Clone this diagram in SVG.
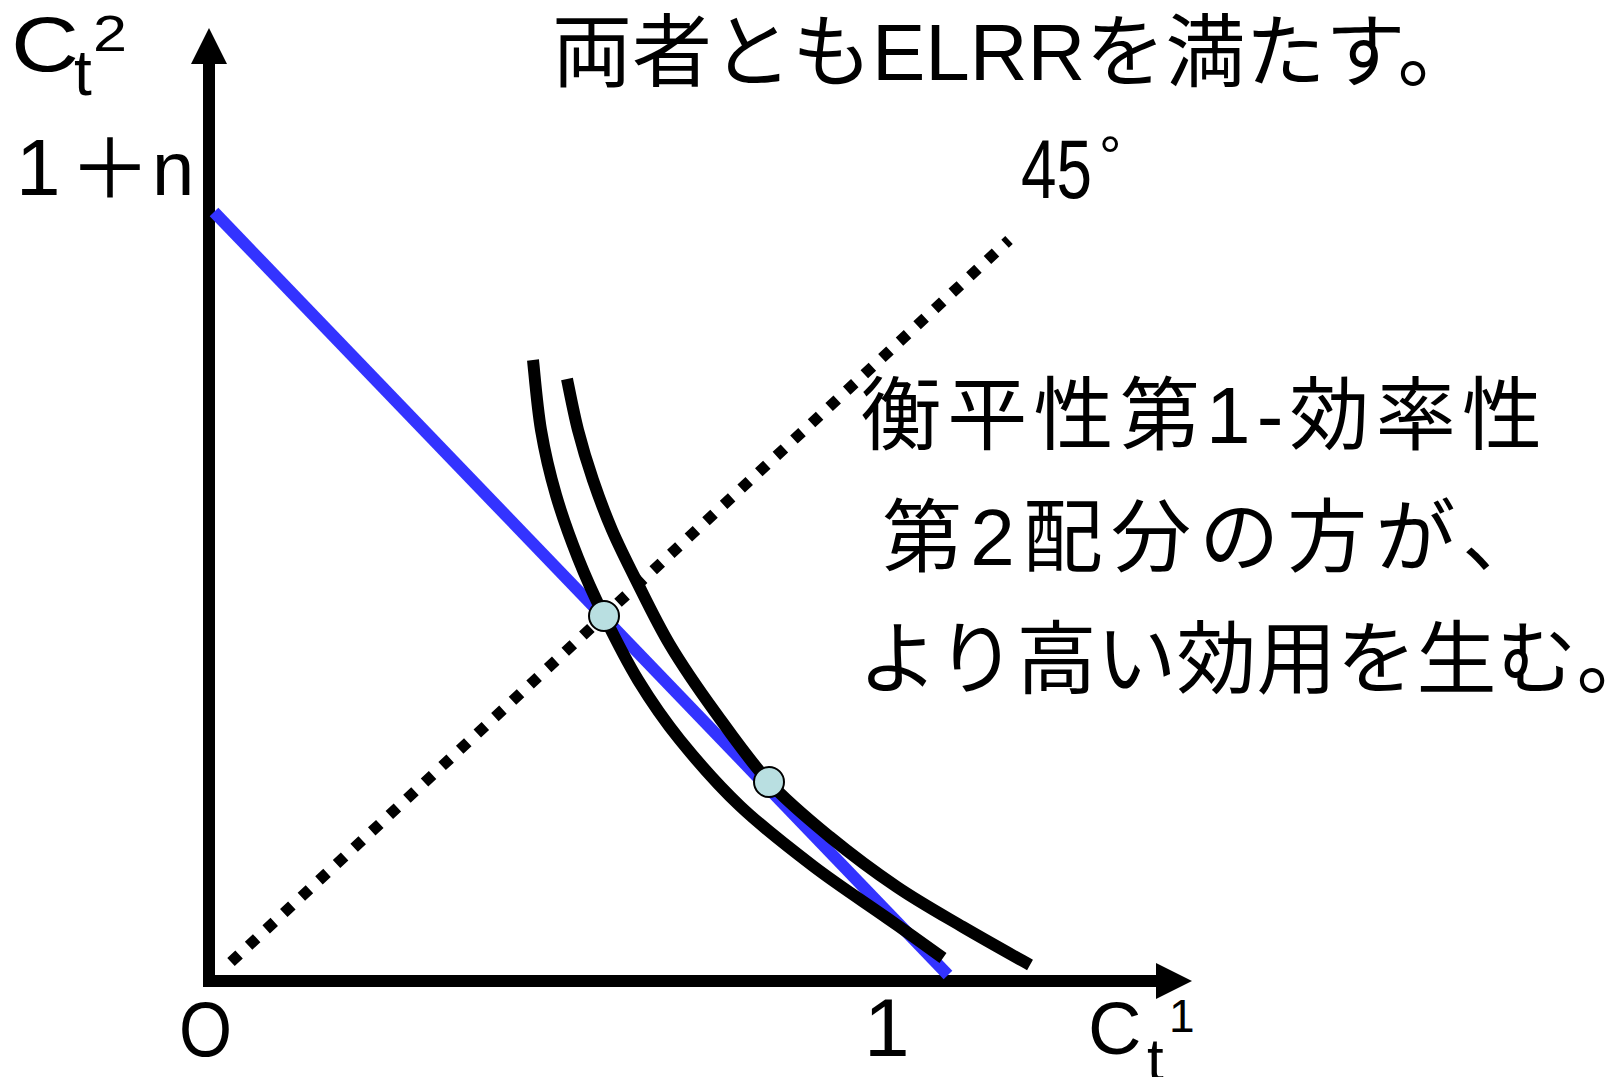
<svg xmlns="http://www.w3.org/2000/svg" width="1622" height="1077" viewBox="0 0 1622 1077">
<style>
.t{font-family:"Liberation Sans","Noto Sans CJK JP",sans-serif;fill:#000}
.j{font-family:"Liberation Sans","Noto Sans CJK JP",sans-serif;fill:#000;font-size:80px}
.ax{stroke:#000;stroke-width:12;fill:none}
.crv{stroke:#000;stroke-width:12;fill:none;stroke-linecap:butt}
.pt{fill:#b9dfe1;stroke:#000;stroke-width:2}
</style>
<rect width="1622" height="1077" fill="#fff"/>
<g id="connectors">
  <g id="axes">
    <line class="ax" x1="209" y1="60" x2="209" y2="987"/>
    <line class="ax" x1="203" y1="981" x2="1160" y2="981"/>
    <polygon points="209,28 191,64 227,64" fill="#000"/>
    <polygon points="1192,981 1156,963 1156,999" fill="#000"/>
  </g>
  <line id="budget-line" x1="214" y1="212" x2="948" y2="975" stroke="#3333ff" stroke-width="12"/>
  <path id="indiff-1" class="crv" d="M533,360 C534.3,371.7 537.2,407.5 541,430 C544.8,452.5 549.8,473.7 556,495 C562.2,516.3 570,537.8 578,558 C586,578.2 594,595.7 604,616 C614,636.3 625.3,659.3 638,680 C650.7,700.7 663,719 680,740 C697,761 717.8,785 740,806 C762.2,827 788.5,847.3 813,866 C837.5,884.7 865.3,902.7 887,918 C908.7,933.3 933.7,951.3 943,958"/>
  <path id="indiff-2" class="crv" d="M567,379 C568.8,387.5 573.7,413.2 578,430 C582.3,446.8 587.3,463.3 593,480 C598.7,496.7 605,513.7 612,530 C619,546.3 625.3,558.8 635,578 C644.7,597.2 656.7,622.7 670,645 C683.3,667.3 698.5,689.2 715,712 C731.5,734.8 749.8,761.2 769,782 C788.2,802.8 808.7,819.5 830,837 C851.3,854.5 874.8,872 897,887 C919.2,902 940.8,914 963,927 C985.2,940 1018.8,958.7 1030,965"/>
  <line id="line-45" x1="231" y1="962" x2="1009" y2="240" stroke="#000" stroke-width="11" stroke-dasharray="11 13"/>
</g>
<g id="point-1"><circle class="pt" cx="604" cy="616" r="15"/></g>
<g id="point-2"><circle class="pt" cx="769" cy="782" r="15"/></g>
<g id="label-y">
  <text class="t" x="11" y="71" font-size="78" textLength="68" lengthAdjust="spacingAndGlyphs">C</text>
  <text class="t" x="74" y="95" font-size="64">t</text>
  <text class="t" x="93" y="51" font-size="50" textLength="34" lengthAdjust="spacingAndGlyphs">2</text>
</g>
<g id="label-1n">
  <text class="t" x="16" y="195" font-size="80">1</text>
  <text x="69" y="198" font-size="82" style="font-family:'Noto Sans CJK JP',sans-serif">＋</text>
  <text class="t" x="152" y="195" font-size="76">n</text>
</g>
<g id="label-origin"><text class="t" x="179" y="1056" font-size="78" textLength="53" lengthAdjust="spacingAndGlyphs">O</text></g>
<g id="label-one"><text class="t" x="864" y="1056" font-size="82">1</text></g>
<g id="label-x">
  <text class="t" x="1088" y="1054" font-size="74">C</text>
  <text class="t" x="1147" y="1080" font-size="60">t</text>
  <text class="t" x="1169" y="1032" font-size="46">1</text>
</g>
<g id="label-45">
  <text class="t" y="198" font-size="84"><tspan x="1021" textLength="71" lengthAdjust="spacingAndGlyphs">45</tspan><tspan x="1099" y="175" font-size="56">°</tspan></text>
</g>
<g id="title"><text class="j" x="552" y="80">両者ともELRRを満たす。</text></g>
<g id="note">
  <text class="j" x="861" y="443" textLength="681" lengthAdjust="spacing">衡平性第1-効率性</text>
  <text class="j" x="882" y="565" textLength="660" lengthAdjust="spacing">第2配分の方が、</text>
  <text class="j" x="858" y="687">より高い効用を生む<tspan style="font-feature-settings:'halt'">。</tspan></text>
</g>
</svg>
